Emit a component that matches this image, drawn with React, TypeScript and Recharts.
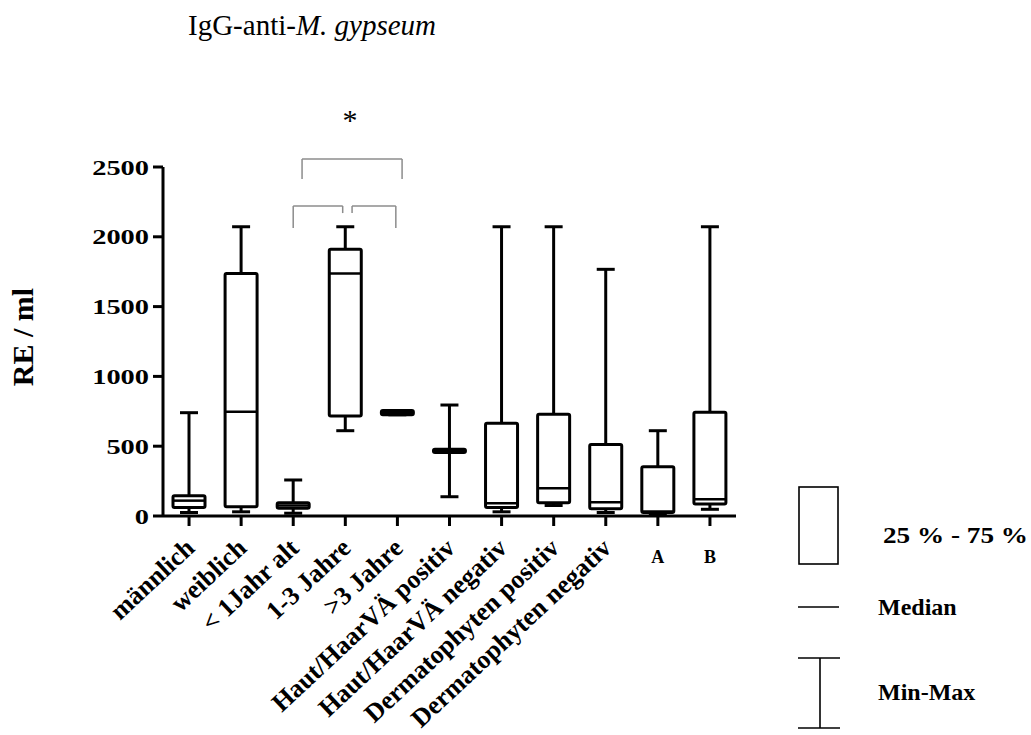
import React from 'react';
import { Bar, ComposedChart, Customized, ReferenceLine, XAxis, YAxis } from 'recharts';

const categories = [
  'männlich',
  'weiblich',
  '< 1Jahr alt',
  '1-3 Jahre',
  '>3 Jahre',
  'Haut/HaarVÄ positiv',
  'Haut/HaarVÄ negativ',
  'Dermatophyten positiv',
  'Dermatophyten negativ',
  'A',
  'B',
];

// min / 25% / median / 75% / max per group (RE / ml)
const minVals = [25, 30, 20, 611, 725, 138, 30, 75, 25, 12, 48];
const q1Vals = [60, 67, 55, 716, 725, 455, 60, 95, 52, 25, 86];
const medianVals = [110, 747, 75, 1738, 740, 466, 91, 198, 98, 32, 120];
const q3Vals = [145, 1738, 95, 1910, 755, 478, 664, 728, 513, 353, 743];
const maxVals = [740, 2072, 258, 2072, 755, 795, 2072, 2072, 1767, 611, 2072];

const yTicks = [0, 500, 1000, 1500, 2000, 2500];

// significance brackets, x in group units (group i is centred on i + 0.5)
const brackets = [
  { x1: 2.67, x2: 4.59, y: 2557, yLeft: 2414, yRight: 2414 },
  { x1: 2.5, x2: 3.45, y: 2221, yLeft: 2063, yRight: 2170 },
  { x1: 3.63, x2: 4.47, y: 2221, yLeft: 2170, yRight: 2063 },
];

const FONT = '"Liberation Serif", "Times New Roman", serif';

const rows = categories.map((name, i) => ({
  name,
  pos: i + 0.5,
  min: minVals[i],
  q1: q1Vals[i],
  median: medianVals[i],
  q3: q3Vals[i],
  max: maxVals[i],
}));

function BoxShape(props: any) {
  const { x, y, width, height, payload } = props;
  if (!payload || height == null) return null;
  const base = y + height;
  const k = height / payload.max;
  const py = (v: number) => base - v * k;
  const cx = x + width / 2;
  const cap = 9;
  return (
    <g stroke="#000" fill="none">
      <line x1={cx} x2={cx} y1={py(payload.min)} y2={py(payload.q1)} strokeWidth={3} />
      <line x1={cx} x2={cx} y1={py(payload.q3)} y2={py(payload.max)} strokeWidth={3} />
      <line x1={cx - cap} x2={cx + cap} y1={py(payload.min)} y2={py(payload.min)} strokeWidth={3} />
      <line x1={cx - cap} x2={cx + cap} y1={py(payload.max)} y2={py(payload.max)} strokeWidth={3} />
      <rect
        x={x}
        y={py(payload.q3)}
        width={width}
        height={py(payload.q1) - py(payload.q3)}
        fill="#fff"
        strokeWidth={3}
        rx={1.5}
      />
      <line x1={x} x2={x + width} y1={py(payload.median)} y2={py(payload.median)} strokeWidth={2.5} />
    </g>
  );
}

function XTick(props: any) {
  const { x, y, payload } = props;
  const label = String(payload.value);
  if (label === 'A' || label === 'B') {
    return (
      <text x={x} y={y + 35} textAnchor="middle" fontFamily={FONT} fontWeight="bold" fontSize={18} fill="#000">
        {label}
      </text>
    );
  }
  return (
    <text
      transform={`translate(${x + 7},${y + 22}) rotate(-43)`}
      textAnchor="end"
      fontFamily={FONT}
      fontWeight="bold"
      fontSize={26}
      fill="#000"
    >
      {label}
    </text>
  );
}

function YTick(props: any) {
  const { x, y, payload } = props;
  const label = String(payload.value);
  return (
    <text
      x={x}
      y={y}
      dy={7.5}
      textAnchor="end"
      fontFamily={FONT}
      fontWeight="bold"
      fontSize={22}
      fill="#000"
      textLength={label.length * 14.2}
      lengthAdjust="spacingAndGlyphs"
    >
      {label}
    </text>
  );
}

function Overlay() {
  return (
    <g fontFamily={FONT} fill="#000">
      <text x={188} y={35} fontSize={29}>
        IgG-anti-<tspan fontStyle="italic">M. gypseum</tspan>
      </text>
      <text x={350} y={130} fontSize={30} textAnchor="middle">
        *
      </text>
      <text
        x={33}
        y={337}
        fontSize={30}
        fontWeight="bold"
        textAnchor="middle"
        transform="rotate(-90, 33, 337)"
      >
        RE / ml
      </text>
      {/* legend */}
      <g stroke="#000" strokeWidth={1.6} fill="none">
        <rect x={799} y={487} width={39} height={77} />
        <line x1={798} x2={839} y1={607} y2={607} />
        <line x1={798} x2={840} y1={658} y2={658} />
        <line x1={798} x2={840} y1={728} y2={728} />
        <line x1={820} x2={820} y1={658} y2={728} />
      </g>
      <g fontWeight="bold" fontSize={24}>
        <text x={883} y={543} textLength={145} lengthAdjust="spacingAndGlyphs">
          25 % - 75 %
        </text>
        <text x={878} y={615}>Median</text>
        <text x={878} y={700}>Min-Max</text>
      </g>
    </g>
  );
}

export default function App() {
  return (
    <div style={{ position: 'absolute', left: 0, top: 0, background: '#fff' }}>
      <ComposedChart
        width={1031}
        height={735}
        data={rows}
        margin={{ top: 167, right: 295, bottom: 0, left: 0 }}
      >
        <XAxis
          dataKey="name"
          height={219}
          interval={0}
          tick={<XTick />}
          tickSize={10}
          axisLine={{ stroke: '#000', strokeWidth: 3 }}
          tickLine={{ stroke: '#000', strokeWidth: 3 }}
        />
        <XAxis
          xAxisId="n"
          dataKey="pos"
          type="number"
          domain={['dataMin', 'dataMax']}
          padding={{ left: 26, right: 26 }}
          hide
        />
        <YAxis
          width={163}
          domain={[0, 2500]}
          ticks={yTicks}
          interval={0}
          tick={<YTick />}
          tickSize={10}
          tickMargin={4}
          axisLine={{ stroke: '#000', strokeWidth: 3 }}
          tickLine={{ stroke: '#000', strokeWidth: 3 }}
        />
        <Bar dataKey="max" barSize={32} isAnimationActive={false} shape={(p: any) => <BoxShape {...p} />} />
        {brackets.map((b, i) => (
          <React.Fragment key={i}>
            <ReferenceLine
              xAxisId="n"
              ifOverflow="visible"
              stroke="#8c8c8c"
              strokeWidth={1.5}
              segment={[{ x: b.x1, y: b.y }, { x: b.x2, y: b.y }]}
            />
            <ReferenceLine
              xAxisId="n"
              ifOverflow="visible"
              stroke="#8c8c8c"
              strokeWidth={1.5}
              segment={[{ x: b.x1, y: b.y }, { x: b.x1, y: b.yLeft }]}
            />
            <ReferenceLine
              xAxisId="n"
              ifOverflow="visible"
              stroke="#8c8c8c"
              strokeWidth={1.5}
              segment={[{ x: b.x2, y: b.y }, { x: b.x2, y: b.yRight }]}
            />
          </React.Fragment>
        ))}
        <Customized component={<Overlay />} />
      </ComposedChart>
    </div>
  );
}
